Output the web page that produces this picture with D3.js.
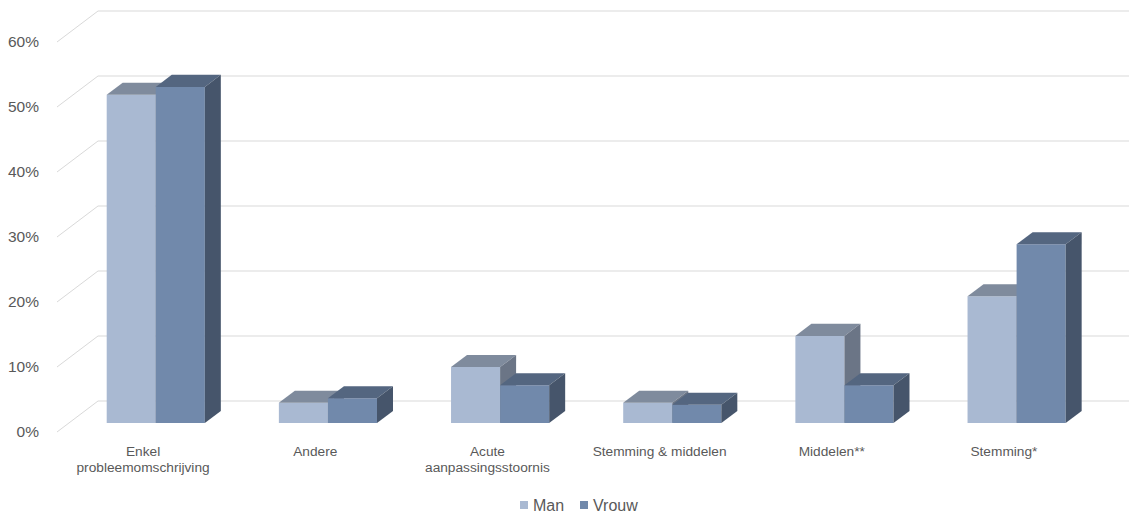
<!DOCTYPE html>
<html>
<head>
<meta charset="utf-8">
<script src="https://cdn.jsdelivr.net/npm/d3@7"></script>
<style>
  html, body { margin: 0; padding: 0; background: #fff; }
  svg { display: block; font-family: "Liberation Sans", Arial, sans-serif; }
</style>
</head>
<body>
<svg id="chart" width="1129" height="516"></svg>
<script>
// ---- data ----
const categories = ["Enkel\nprobleemomschrijving", "Andere", "Acute\naanpassingsstoornis", "Stemming & middelen", "Middelen**", "Stemming*"];
const seriesNames = ["Man", "Vrouw"];
const manValues = [0.505, 0.031, 0.086, 0.031, 0.134, 0.195];
const vrouwValues = [0.517, 0.038, 0.058, 0.028, 0.058, 0.275];
const tickValues = [0, 0.1, 0.2, 0.3, 0.4, 0.5, 0.6];

const colors = {
  Man:   { front: "#A9B9D2", top: "#7F8B9D", side: "#6B7586" },
  Vrouw: { front: "#7189AB", top: "#546680", side: "#46556B" }
};

const svg = d3.select("#chart");

// geometry of oblique projection
const x0 = 57, x1 = 1090;      // front plane horizontal extent
const base = 432;              // y of 0% at the front plane
const depthX = 41, depthY = 31; // full depth offset
const zFront = 0.29, zBack = 0.68;

const y = d3.scaleLinear().domain([0, 0.6]).range([0, 390]);
const xBand = d3.scaleBand().domain(categories).range([x0 + 0.8, x1 + 0.8]).paddingInner(0.43).paddingOuter(0.215);
const xSub = d3.scaleBand().domain(seriesNames).range([0, xBand.bandwidth()]);

function P(x, v, z) { return [x + z * depthX, base - y(v) - z * depthY]; }

// ---- walls / gridlines ----
const grid = svg.append("g");
tickValues.forEach(t => {
  const a = P(x0, t, 0), b = P(x0, t, 1);
  grid.append("line").attr("x1", a[0]).attr("y1", a[1]).attr("x2", b[0]).attr("y2", b[1])
    .attr("stroke", "#D9D9D9").attr("stroke-width", 1);
  grid.append("line").attr("x1", b[0]).attr("y1", b[1]).attr("x2", 1129).attr("y2", b[1])
    .attr("stroke", "#D9D9D9").attr("stroke-width", 1);
});

// y tick labels
svg.append("g").selectAll("text").data(tickValues).join("text")
  .attr("x", 39).attr("y", d => base - y(d)).attr("dy", "0.35em")
  .attr("text-anchor", "end").attr("font-size", 15.5).attr("fill", "#595959")
  .text(d => d3.format(".0%")(d));

// ---- bars ----
const data = categories.map((c, i) => ({ cat: c, vals: [ { s: "Man", v: manValues[i] }, { s: "Vrouw", v: vrouwValues[i] } ] }));
const barsG = svg.append("g");
const pts = arr => arr.map(p => p.join(",")).join(" ");
data.forEach(d => {
  d.vals.forEach(b => {
    const xl = xBand(d.cat) + xSub(b.s), xr = xl + xSub.bandwidth();
    const c = colors[b.s];
    // front
    barsG.append("polygon").attr("points", pts([P(xl, 0, zFront), P(xr, 0, zFront), P(xr, b.v, zFront), P(xl, b.v, zFront)]))
      .attr("fill", c.front);
    // top
    barsG.append("polygon").attr("points", pts([P(xl, b.v, zFront), P(xr, b.v, zFront), P(xr, b.v, zBack), P(xl, b.v, zBack)]))
      .attr("fill", c.top);
    // side
    barsG.append("polygon").attr("points", pts([P(xr, 0, zFront), P(xr, 0, zBack), P(xr, b.v, zBack), P(xr, b.v, zFront)]))
      .attr("fill", c.side);
  });
});

// ---- category labels ----
const catG = svg.append("g");
categories.forEach((c, i) => {
  const cx = x0 + (i + 0.5) * (x1 - x0) / categories.length;
  const lines = c.split("\n");
  const t = catG.append("text").attr("x", cx).attr("y", 456).attr("text-anchor", "middle")
    .attr("font-size", 13.7).attr("fill", "#595959");
  lines.forEach((l, k) => t.append("tspan").attr("x", cx).attr("dy", k === 0 ? 0 : 16).text(l));
});

// ---- legend ----
const legend = svg.append("g");
const legendItems = [{ s: "Man", x: 520 }, { s: "Vrouw", x: 580 }];
legendItems.forEach(it => {
  legend.append("rect").attr("x", it.x).attr("y", 501).attr("width", 8).attr("height", 8).attr("fill", colors[it.s].front);
  legend.append("text").attr("x", it.x + 13).attr("y", 505).attr("dy", "0.35em")
    .attr("font-size", 16).attr("fill", "#595959").text(it.s);
});
</script>
</body>
</html>
